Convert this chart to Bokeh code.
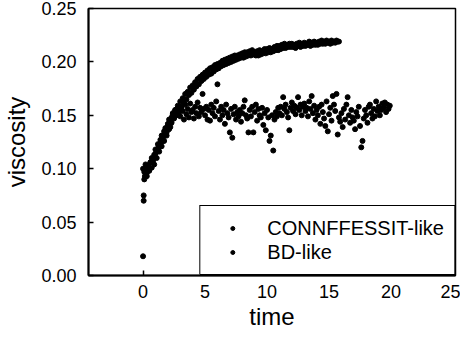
from bokeh.plotting import figure
from bokeh.models import Range1d, Legend, LegendItem, FixedTicker
from bokeh.embed import file_html
from bokeh.resources import INLINE

# CONNFFESSIT-like series (upper curve)
t_conn = [0.05,
          0.0, 0.1, 0.2, 0.3, 0.4, 0.5, 0.6, 0.7, 0.8, 0.9,
          1.0, 1.1, 1.2, 1.3, 1.4, 1.5, 1.6, 1.7, 1.8, 1.9,
          2.0, 2.1, 2.2, 2.3, 2.4, 2.5, 2.6, 2.7, 2.8, 2.9,
          3.0, 3.1, 3.2, 3.3, 3.4, 3.5, 3.6, 3.7, 3.8, 3.9,
          4.0, 4.1, 4.2, 4.3, 4.4, 4.5, 4.6, 4.7, 4.8, 4.9,
          5.0, 5.1, 5.2, 5.3, 5.4, 5.5, 5.6, 5.7, 5.8, 5.9,
          6.0, 6.1, 6.2, 6.3, 6.4, 6.5, 6.6, 6.7, 6.8, 6.9,
          7.0, 7.1, 7.2, 7.3, 7.4, 7.5, 7.6, 7.7, 7.8, 7.9,
          8.0, 8.1, 8.2, 8.3, 8.4, 8.5, 8.6, 8.7, 8.8, 8.9,
          9.0, 9.1, 9.2, 9.3, 9.4, 9.5, 9.6, 9.7, 9.8, 9.9,
          10.0, 10.1, 10.2, 10.3, 10.4, 10.5, 10.6, 10.7, 10.8, 10.9,
          11.0, 11.1, 11.2, 11.3, 11.4, 11.5, 11.6, 11.7, 11.8, 11.9,
          12.0, 12.1, 12.2, 12.3, 12.4, 12.5, 12.6, 12.7, 12.8, 12.9,
          13.0, 13.1, 13.2, 13.3, 13.4, 13.5, 13.6, 13.7, 13.8, 13.9,
          14.0, 14.1, 14.2, 14.3, 14.4, 14.5, 14.6, 14.7, 14.8, 14.9,
          15.0, 15.1, 15.2, 15.3, 15.4, 15.5, 15.6, 15.7, 15.8]
v_conn = [0.075,
          0.100, 0.097, 0.104, 0.093, 0.102, 0.098, 0.106, 0.101, 0.109, 0.104,
          0.114, 0.110, 0.119, 0.116, 0.124, 0.121, 0.129, 0.126, 0.134, 0.131,
          0.140, 0.137, 0.146, 0.143, 0.151, 0.148, 0.155, 0.152, 0.159, 0.156,
          0.163, 0.158, 0.166, 0.162, 0.170, 0.165, 0.172, 0.169, 0.176, 0.171,
          0.178, 0.174, 0.181, 0.177, 0.184, 0.179, 0.186, 0.182, 0.188, 0.184,
          0.190, 0.186, 0.192, 0.188, 0.194, 0.189, 0.195, 0.191, 0.197, 0.193,
          0.198, 0.194, 0.199, 0.196, 0.201, 0.197, 0.202, 0.198, 0.203, 0.199,
          0.204, 0.200, 0.205, 0.201, 0.206, 0.202, 0.206, 0.203, 0.207, 0.204,
          0.208, 0.204, 0.209, 0.205, 0.209, 0.206, 0.210, 0.206, 0.211, 0.207,
          0.209, 0.206, 0.210, 0.206, 0.211, 0.207, 0.210, 0.208, 0.212, 0.208,
          0.212, 0.209, 0.213, 0.209, 0.212, 0.210, 0.214, 0.211, 0.215, 0.211,
          0.215, 0.212, 0.216, 0.213, 0.217, 0.213, 0.216, 0.214, 0.217, 0.214,
          0.217, 0.214, 0.216, 0.213, 0.217, 0.215, 0.218, 0.214, 0.217, 0.215,
          0.218, 0.215, 0.217, 0.216, 0.219, 0.215, 0.218, 0.216, 0.219, 0.216,
          0.218, 0.216, 0.219, 0.217, 0.220, 0.217, 0.219, 0.217, 0.220, 0.218,
          0.219, 0.217, 0.220, 0.218, 0.219, 0.218, 0.220, 0.219, 0.219]

# BD-like series (lower, noisy plateau)
t_bd = [0.0, 0.05, 0.1, 0.15, 0.2, 0.3, 0.4, 0.5, 0.6, 0.7, 0.8, 0.9,
        1.0, 1.1, 1.2, 1.3, 1.4, 1.5, 1.6, 1.7, 1.8, 1.9,
        2.0, 2.1, 2.2, 2.3, 2.4, 2.5, 2.6, 2.7, 2.8, 2.9,
        3.0, 3.1, 3.2, 3.3, 3.4, 3.5, 3.6, 3.7, 3.8, 3.9,
        4.0, 4.1, 4.2, 4.3, 4.4, 4.5, 4.6, 4.7, 4.8, 4.9,
        5.0, 5.1, 5.2, 5.3, 5.4, 5.5, 5.6, 5.7, 5.8, 5.9,
        6.0, 6.1, 6.2, 6.3, 6.4, 6.5, 6.6, 6.7, 6.8, 6.9,
        7.0, 7.1, 7.2, 7.3, 7.4, 7.5, 7.6, 7.7, 7.8, 7.9,
        8.0, 8.1, 8.2, 8.3, 8.4, 8.5, 8.6, 8.7, 8.8, 8.9,
        9.0, 9.1, 9.2, 9.3, 9.4, 9.5, 9.6, 9.7, 9.8, 9.9,
        10.0, 10.1, 10.2, 10.3, 10.4, 10.5, 10.6, 10.7, 10.8, 10.9,
        11.0, 11.1, 11.2, 11.3, 11.4, 11.5, 11.6, 11.7, 11.8, 11.9,
        12.0, 12.1, 12.2, 12.3, 12.4, 12.5, 12.6, 12.7, 12.8, 12.9,
        13.0, 13.1, 13.2, 13.3, 13.4, 13.5, 13.6, 13.7, 13.8, 13.9,
        14.0, 14.1, 14.2, 14.3, 14.4, 14.5, 14.6, 14.7, 14.8, 14.9,
        15.0, 15.1, 15.2, 15.3, 15.4, 15.5, 15.6, 15.7, 15.8, 15.9,
        16.0, 16.1, 16.2, 16.3, 16.4, 16.5, 16.6, 16.7, 16.8, 16.9,
        17.0, 17.1, 17.2, 17.3, 17.4, 17.5, 17.6, 17.7, 17.8, 17.9,
        18.0, 18.1, 18.2, 18.3, 18.4, 18.5, 18.6, 18.7, 18.8, 18.9,
        19.0, 19.1, 19.2, 19.3, 19.4, 19.5, 19.6, 19.7, 19.8, 19.9]
v_bd = [0.018, 0.070, 0.090, 0.093, 0.100, 0.096, 0.103, 0.099, 0.106, 0.110, 0.107, 0.113,
        0.118, 0.116, 0.123, 0.120, 0.127, 0.131, 0.126, 0.135, 0.138, 0.134,
        0.142, 0.146, 0.139, 0.148, 0.152, 0.147, 0.155, 0.150, 0.157, 0.153,
        0.149, 0.158, 0.154, 0.146, 0.160, 0.151, 0.156, 0.148, 0.161, 0.153,
        0.155, 0.147, 0.158, 0.152, 0.162, 0.149, 0.157, 0.153, 0.170, 0.156,
        0.150, 0.158, 0.146, 0.155, 0.145, 0.160, 0.152, 0.157, 0.149, 0.163,
        0.179, 0.154, 0.146, 0.158, 0.150, 0.155, 0.142, 0.160, 0.152, 0.148,
        0.134, 0.156, 0.129, 0.151, 0.158, 0.146, 0.153, 0.149, 0.155, 0.144,
        0.152, 0.158, 0.164, 0.150, 0.147, 0.134, 0.155, 0.149, 0.158, 0.134,
        0.153, 0.160, 0.145, 0.156, 0.150, 0.148, 0.157, 0.141, 0.152, 0.136,
        0.155, 0.148, 0.126, 0.131, 0.150, 0.117, 0.146, 0.153, 0.149, 0.157,
        0.152, 0.158, 0.150, 0.167, 0.156, 0.160, 0.153, 0.148, 0.136, 0.157,
        0.162, 0.154, 0.159, 0.151, 0.157, 0.167, 0.155, 0.160, 0.150, 0.158,
        0.161, 0.154, 0.157, 0.149, 0.163, 0.156, 0.168, 0.152, 0.159, 0.146,
        0.155, 0.150, 0.158, 0.142, 0.160, 0.153, 0.147, 0.140, 0.163, 0.135,
        0.151, 0.157, 0.145, 0.168, 0.160, 0.154, 0.170, 0.132, 0.148, 0.144,
        0.152, 0.139, 0.156, 0.146, 0.160, 0.167, 0.150, 0.143, 0.155, 0.148,
        0.145, 0.137, 0.153, 0.149, 0.158, 0.140, 0.120, 0.126, 0.147, 0.155,
        0.150, 0.143, 0.158, 0.160, 0.152, 0.147, 0.156, 0.149, 0.163, 0.154,
        0.158, 0.150, 0.155, 0.161, 0.157, 0.162, 0.153, 0.160, 0.156, 0.159]

x_ticks = [0, 5, 10, 15, 20, 25]
y_ticks = [0.00, 0.05, 0.10, 0.15, 0.20, 0.25]
series_labels = ["CONNFFESSIT-like", "BD-like"]

FONT = "Liberation Sans"

p = figure(width=460, height=337, output_backend="svg", toolbar_location=None,
           x_range=Range1d(-4.4, 25.2), y_range=Range1d(0, 0.25),
           min_border_left=88, min_border_right=5, min_border_top=8, min_border_bottom=62)

r1 = p.scatter(t_conn, v_conn, marker="circle", size=5, fill_color="black", line_color="black")
r2 = p.scatter(t_bd, v_bd, marker="circle", size=5, fill_color="black", line_color="black")

p.xgrid.visible = False
p.ygrid.visible = False
p.outline_line_color = "black"
p.outline_line_width = 1.5
p.outline_line_alpha = 1

p.xaxis.ticker = FixedTicker(ticks=x_ticks)
p.yaxis.ticker = FixedTicker(ticks=y_ticks)
p.yaxis.major_label_overrides = {v: f"{v:.2f}" for v in y_ticks}

for ax in (p.xaxis, p.yaxis):
    ax.axis_line_width = 2
    ax.axis_line_color = "black"
    ax.major_tick_in = 5
    ax.major_tick_out = 0
    ax.minor_tick_in = 0
    ax.minor_tick_out = 0
    ax.major_tick_line_width = 1.5
    ax.major_label_text_font = FONT
    ax.major_label_text_font_size = "18px"
    ax.major_label_text_color = "black"
    ax.axis_label_text_font = FONT
    ax.axis_label_text_font_size = "24px"
    ax.axis_label_text_font_style = "normal"
    ax.axis_label_text_color = "black"

p.xaxis.axis_label = "time"
p.yaxis.axis_label = "viscosity"
p.xaxis.major_label_standoff = 9
p.xaxis.axis_label_standoff = 2
p.yaxis.major_label_standoff = 12
p.yaxis.axis_label_standoff = 8

legend = Legend(items=[LegendItem(label=series_labels[0], renderers=[r1]),
                       LegendItem(label=series_labels[1], renderers=[r2])],
                location="bottom_right", margin=0, padding=10, spacing=0,
                glyph_width=44, glyph_height=10, label_height=24, label_standoff=13,
                label_text_font=FONT, label_text_font_size="20px", label_text_color="black",
                border_line_color="black", border_line_width=1.5, border_line_alpha=1,
                background_fill_color="white", background_fill_alpha=1)
p.add_layout(legend)

open("out.html", "w").write(file_html(p, INLINE))
